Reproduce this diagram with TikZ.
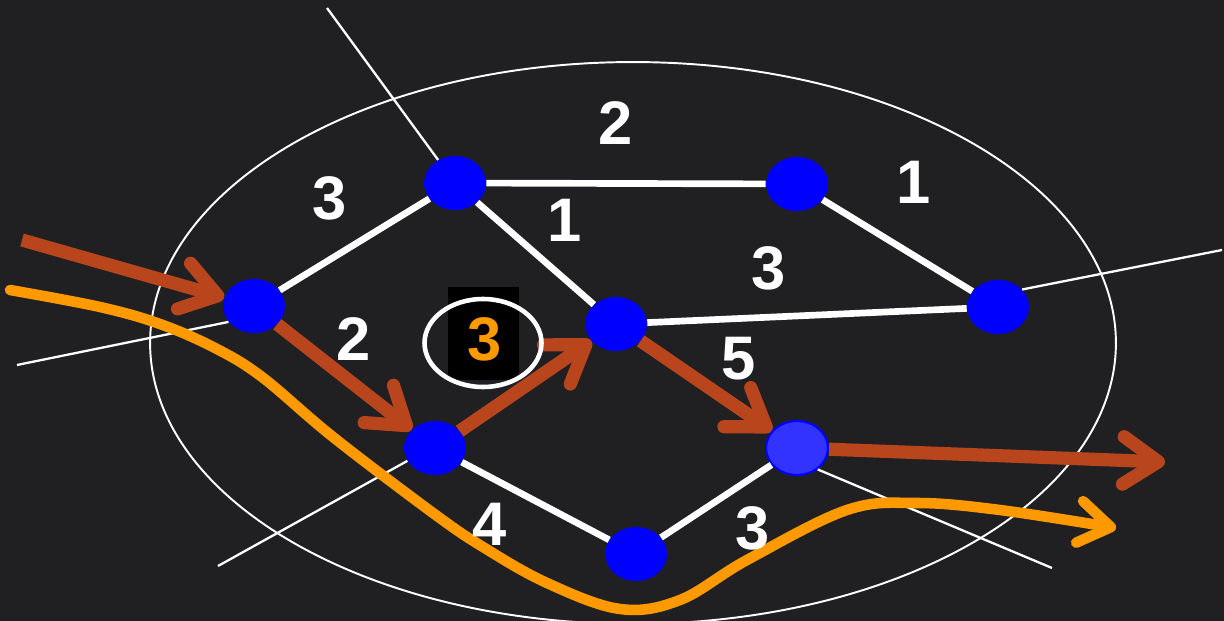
\documentclass[tikz,border=0pt]{standalone}
\usepackage{fontspec}
\setmainfont{Liberation Sans}
\usetikzlibrary{shapes.geometric,arrows.meta}
\definecolor{bgdark}{RGB}{32,32,34}
\definecolor{flowred}{RGB}{185,69,29}
\definecolor{floworange}{RGB}{255,153,0}
\definecolor{vblue}{RGB}{0,0,255}
\definecolor{vlite}{RGB}{51,51,255}
\begin{document}
\begin{tikzpicture}[x=0.02cm, y=-0.02cm,
  vertex/.style={ellipse, fill=vblue, minimum width=1.24cm, minimum height=1.08cm, inner sep=0pt},
  edge/.style={white, line width=3.8pt},
  cutline/.style={white, line width=1.3pt},
  weight/.style={white, font=\fontsize{35}{40}\selectfont\bfseries},
  redflow/.style={flowred, line width=7.5pt, -{Straight Barb[length=20pt, width=27pt, round]}},
  orangeflow/.style={floworange, line width=6pt, line cap=round, -{Straight Barb[length=18pt, width=24pt, round]}}]
  \fill[bgdark] (0,0) rectangle (1224,621);
  \useasboundingbox (0,0) rectangle (1224,621);
  % the cut
  \draw[white, line width=1.1pt] (633,343) ellipse [x radius=9.66cm, y radius=5.62cm];
  % vertices
  \node[vertex] (A) at (254,306) {};
  \node[vertex] (B) at (455,183) {};
  \node[vertex] (C) at (797,184) {};
  \node[vertex] (D) at (998,307) {};
  \node[vertex] (E) at (616,324) {};
  \node[vertex] (F) at (435,448) {};
  \node[vertex, fill=vlite, draw=vblue, line width=1.2pt] (G) at (797,448) {};
  \node[vertex] (H) at (636,554) {};
  % thin cut lines
  \coordinate (cutB) at (327,8);
  \coordinate (cutA) at (17,365);
  \coordinate (cutD) at (1222,250);
  \coordinate (cutF) at (218,566);
  \coordinate (cutG) at (1052,568);
  \draw[cutline] (cutB) -- (B);
  \draw[cutline] (cutA) -- (A.212);
  \draw[cutline] (cutD) -- (D.36);
  \draw[cutline] (cutF) -- (F.205);
  \draw[cutline] (cutG) -- (G.-46);
  % edges
  \draw[edge] (A) -- (B);
  \draw[edge] (B) -- (C);
  \draw[edge] (B) -- (E);
  \draw[edge] (C) -- (D);
  \draw[edge] (E) -- (D);
  \draw[edge] (F) -- (H);
  \draw[edge] (H) -- (G);
  % red flow
  \coordinate (inA) at (22,240);
  \coordinate (outG) at (1165,462);
  \draw[redflow] (inA) -- (A);
  \draw[redflow] (A) -- (F);
  \draw[redflow] (F) -- (E);
  \draw[redflow] (E) -- (G);
  \draw[redflow] (G) -- (outG);
  % orange flow
  \draw[orangeflow] plot[smooth, tension=0.6] coordinates {(10,290) (100,307) (160,324) (215,348) (262,377) (333,437) (433,513) (483,547) (547,583) (620,609) (680,600) (747,560) (847,510) (917,503) (1000,510) (1116,528)};
  % weights
  \node[weight] (wAB) at (330,198) {3};
  \node[weight] (wBC) at (616,123) {2};
  \node[weight] (wBE) at (565,220) {1};
  \node[weight] (wCD) at (914,182) {1};
  \node[weight] (wED) at (769,268) {3};
  \node[weight] (wAF) at (354,339) {2};
  \node[weight] (wEG) at (739,359) {5};
  \node[weight] (wFH) at (490,524) {4};
  \node[weight] (wHG) at (753,528) {3};
  % marked weight
  \fill[black] (448,287) rectangle (519,380);
  \node[weight, text=floworange] (wFE) at (485,339) {3};
  \draw[white, line width=2.6pt] (483,343) ellipse [x radius=1.17cm, y radius=0.88cm];
\end{tikzpicture}
\end{document}
